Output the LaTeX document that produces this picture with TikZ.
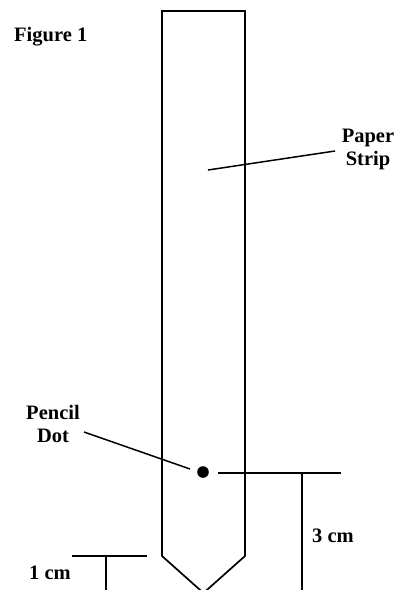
\documentclass[tikz,border=0pt]{standalone}
\usepackage{fontspec}
\setmainfont{Liberation Serif}
\begin{document}
\begin{tikzpicture}[x=1pt,y=-1pt,
  ln/.style={line width=1.7pt},
  lbl/.style={font=\fontsize{20.5}{23}\selectfont\bfseries, inner sep=0pt, align=center}]
\useasboundingbox (0,0) rectangle (404,590);
\clip (0,0) rectangle (404,590);
% paper strip
\draw[ln, line join=miter] (162,556) -- (162,11) -- (245,11) -- (245,556) -- (203.5,593) -- cycle;
% pencil dot
\fill (203,472) circle (5.8);
\coordinate (dot) at (190,469);
% labels
\node[lbl, anchor=west] (fig) at (14,37) {Figure 1};
\node[lbl] (paper) at (368,149) {Paper\\Strip};
\node[lbl] (pencil) at (53,424) {Pencil\\Dot};
\node[lbl] (three) at (333,536) {3 cm};
\node[lbl] (one) at (50,573) {1 cm};
% leaders
\coordinate (ps1) at (335,151);
\coordinate (ps2) at (208,170);
\draw[ln, line width=1.5pt] (ps1) -- (ps2);
\coordinate (pd1) at (84,432);
\draw[ln, line width=1.5pt] (pd1) -- (dot);
% 3 cm dimension
\coordinate (h1) at (218,473);
\coordinate (h2) at (341,473);
\coordinate (v1) at (302,473);
\coordinate (v2) at (302,595);
\draw[ln] (h1) -- (h2);
\draw[ln] (v1) -- (v2);
% 1 cm dimension
\coordinate (g1) at (72,556);
\coordinate (g2) at (147,556);
\coordinate (w1) at (106,556);
\coordinate (w2) at (106,595);
\draw[ln] (g1) -- (g2);
\draw[ln] (w1) -- (w2);
\end{tikzpicture}
\end{document}
